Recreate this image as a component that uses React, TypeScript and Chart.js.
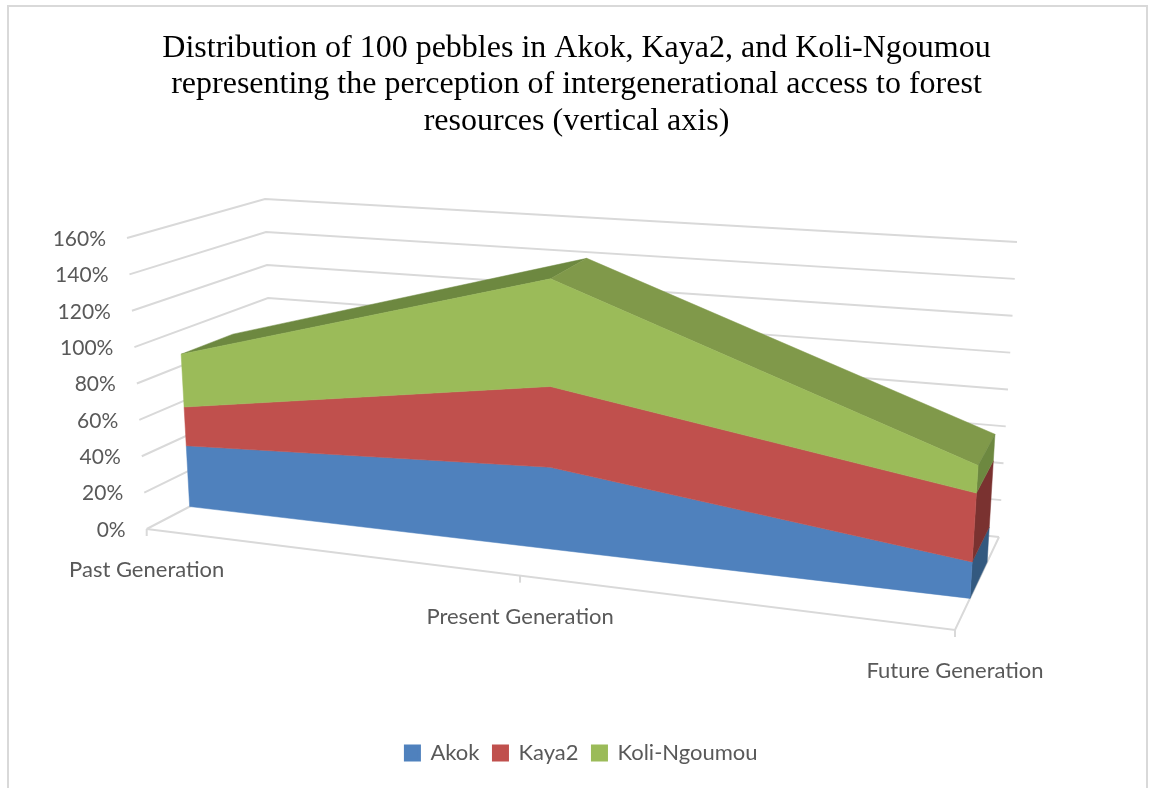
import React, { useEffect, useRef } from "react";
import { Chart, registerables } from "chart.js";

Chart.register(...registerables);

const categories = ["Past Generation", "Present Generation", "Future Generation"];
const akok = [34.5, 44, 18.5];
const kaya2 = [22, 43.5, 35];
const koliNgoumou = [30, 58, 14];
const seriesNames = ["Akok", "Kaya2", "Koli-Ngoumou"];
const seriesColors = ["#4F81BD", "#C0504D", "#9BBB59"];
const sideColors = ["#33597F", "#7A3230", "#6D8840"];
const topColors = ["#6D8840", "#80994A"];
const titleLines = [
  "Distribution of 100 pebbles in Akok, Kaya2, and Koli-Ngoumou",
  "representing the perception of intergenerational access to forest",
  "resources (vertical axis)",
];

type P = [number, number];
// Corners of the 3D box as the camera sees it
const FLB: P = [146.7, 529], FRB: P = [955, 630], BLB: P = [273, 463], BRB: P = [999, 537];
const FLT: P = [127, 238], FRT: P = [975, 305], BLT: P = [265, 199], BRT: P = [1017, 242];
const PERSPECTIVE = 1.165;
const DEPTH_FRONT = 0.34, DEPTH_BACK = 0.73;
const LEGEND_SHIFT = 5;

const lerp = (a: P, b: P, t: number): P => [a[0] + (b[0] - a[0]) * t, a[1] + (b[1] - a[1]) * t];
function project(u: number, d: number, v: number): P {
  const w = u / (u + (1 - u) * PERSPECTIVE);
  const bottom = lerp(lerp(FLB, FRB, w), lerp(BLB, BRB, w), d);
  const top = lerp(lerp(FLT, FRT, w), lerp(BLT, BRT, w), d);
  return lerp(bottom, top, v);
}

function poly(ctx: CanvasRenderingContext2D, pts: P[], color: string) {
  ctx.beginPath();
  pts.forEach((p, i) => (i ? ctx.lineTo(p[0], p[1]) : ctx.moveTo(p[0], p[1])));
  ctx.closePath();
  ctx.fillStyle = color;
  ctx.fill();
  ctx.strokeStyle = color;
  ctx.lineWidth = 0.5;
  ctx.stroke();
}
function seg(ctx: CanvasRenderingContext2D, pts: P[]) {
  ctx.beginPath();
  pts.forEach((p, i) => (i ? ctx.lineTo(p[0], p[1]) : ctx.moveTo(p[0], p[1])));
  ctx.stroke();
}

const scene3d = {
  id: "scene3d",
  afterLayout(chart: any) {
    chart.legend.left += LEGEND_SHIFT;
    chart.legend.right += LEGEND_SHIFT;
  },
  beforeDatasetsDraw(chart: any) {
    const ctx: CanvasRenderingContext2D = chart.ctx;
    const area = chart.chartArea;
    const yScale = chart.scales.y;
    const toU = (x: number) => (x - area.left) / (area.right - area.left);
    const toV = (y: number) => (area.bottom - y) / (area.bottom - area.top);

    ctx.save();
    // Frame of the picture
    ctx.strokeStyle = "#D9D9D9";
    ctx.lineWidth = 2;
    seg(ctx, [[8, 788], [8, 6], [1147, 6], [1147, 788]]);

    // Walls
    ctx.lineWidth = 2;
    ctx.strokeStyle = "#D9D9D9";
    yScale.ticks.forEach((t: any) => {
      const v = toV(yScale.getPixelForValue(t.value));
      seg(ctx, [project(0, 0, v), project(0, 1, v), project(1, 1, v)]);
    });
    // Floor
    seg(ctx, [project(0, 0, 0), project(1, 0, 0), project(1, 1, 0)]);
    categories.forEach((_, i) => {
      const u = i / (categories.length - 1);
      const p = project(u, 0, 0);
      seg(ctx, [p, [p[0], p[1] + 7]]);
    });

    // Stacked areas, from the scale positions of the line elements
    const layers = chart.data.datasets.map((_: any, i: number) =>
      chart.getDatasetMeta(i).data.map((e: any) => ({ u: toU(e.x), v: toV(e.y) }))
    );
    const n = layers[0].length;
    const baseline = layers[0].map((p: any) => ({ u: p.u, v: 0 }));

    const top = layers[layers.length - 1];
    for (let i = 0; i < n - 1; i++) {
      poly(ctx, [
        project(top[i].u, DEPTH_FRONT, top[i].v),
        project(top[i + 1].u, DEPTH_FRONT, top[i + 1].v),
        project(top[i + 1].u, DEPTH_BACK, top[i + 1].v),
        project(top[i].u, DEPTH_BACK, top[i].v),
      ], topColors[i]);
    }
    layers.forEach((layer: any[], s: number) => {
      const below = s ? layers[s - 1] : baseline;
      const a = layer[n - 1], b = below[n - 1];
      poly(ctx, [
        project(a.u, DEPTH_FRONT, a.v),
        project(a.u, DEPTH_BACK, a.v),
        project(b.u, DEPTH_BACK, b.v),
        project(b.u, DEPTH_FRONT, b.v),
      ], sideColors[s]);
    });
    layers.forEach((layer: any[], s: number) => {
      const below = s ? layers[s - 1] : baseline;
      const pts: P[] = [
        ...layer.map((p: any) => project(p.u, DEPTH_FRONT, p.v)),
        ...below.slice().reverse().map((p: any) => project(p.u, DEPTH_FRONT, p.v)),
      ];
      poly(ctx, pts, seriesColors[s]);
    });

    // Axis labels
    ctx.fillStyle = "#595959";
    ctx.font = "21px Lato";
    ctx.textBaseline = "middle";
    ctx.textAlign = "right";
    yScale.ticks.forEach((t: any) => {
      const v = toV(yScale.getPixelForValue(t.value));
      const p = project(0, 0, v);
      ctx.fillText(t.label, p[0] - 21, p[1] + 1);
    });
    ctx.textAlign = "center";
    ctx.font = "22px Lato";
    chart.data.labels.forEach((label: string, i: number) => {
      const p = project(i / (categories.length - 1), 0, 0);
      ctx.fillText(label, p[0], p[1] + 41);
    });
    ctx.restore();
  },
};

export default function App() {
  const ref = useRef<HTMLCanvasElement>(null);
  useEffect(() => {
    const data = [akok, kaya2, koliNgoumou];
    const chart = new Chart(ref.current!, {
      type: "line",
      data: {
        labels: categories,
        datasets: seriesNames.map((label, i) => ({
          label,
          data: data[i],
          backgroundColor: seriesColors[i],
          borderColor: seriesColors[i],
          showLine: false,
          pointRadius: 0,
          pointHoverRadius: 0,
        })),
      },
      options: {
        responsive: false,
        animation: false,
        layout: { padding: { top: 24, bottom: 14, left: 4, right: 0 } },
        scales: {
          x: { display: false, offset: false },
          y: {
            display: false,
            stacked: true,
            min: 0,
            max: 160,
            ticks: { stepSize: 20, callback: (v: any) => `${v}%` },
          },
        },
        plugins: {
          title: {
            display: true,
            text: titleLines,
            color: "#000000",
            font: { family: "'Liberation Serif'", size: 32, weight: "normal", lineHeight: 1.14 },
            padding: { top: 6, bottom: 0 },
          },
          legend: {
            position: "bottom",
            labels: {
              boxWidth: 14,
              boxHeight: 14,
              padding: 14,
              color: "#595959",
              font: { family: "Lato", size: 22 },
            },
          },
          tooltip: { enabled: false },
        },
      },
      plugins: [scene3d],
    } as any);
    return () => chart.destroy();
  }, []);
  return (
    <div style={{ position: "absolute", left: 0, top: 0, width: 1149, height: 788, background: "#fff" }}>
      <canvas ref={ref} width={1149} height={788} style={{ display: "block" }} />
    </div>
  );
}
